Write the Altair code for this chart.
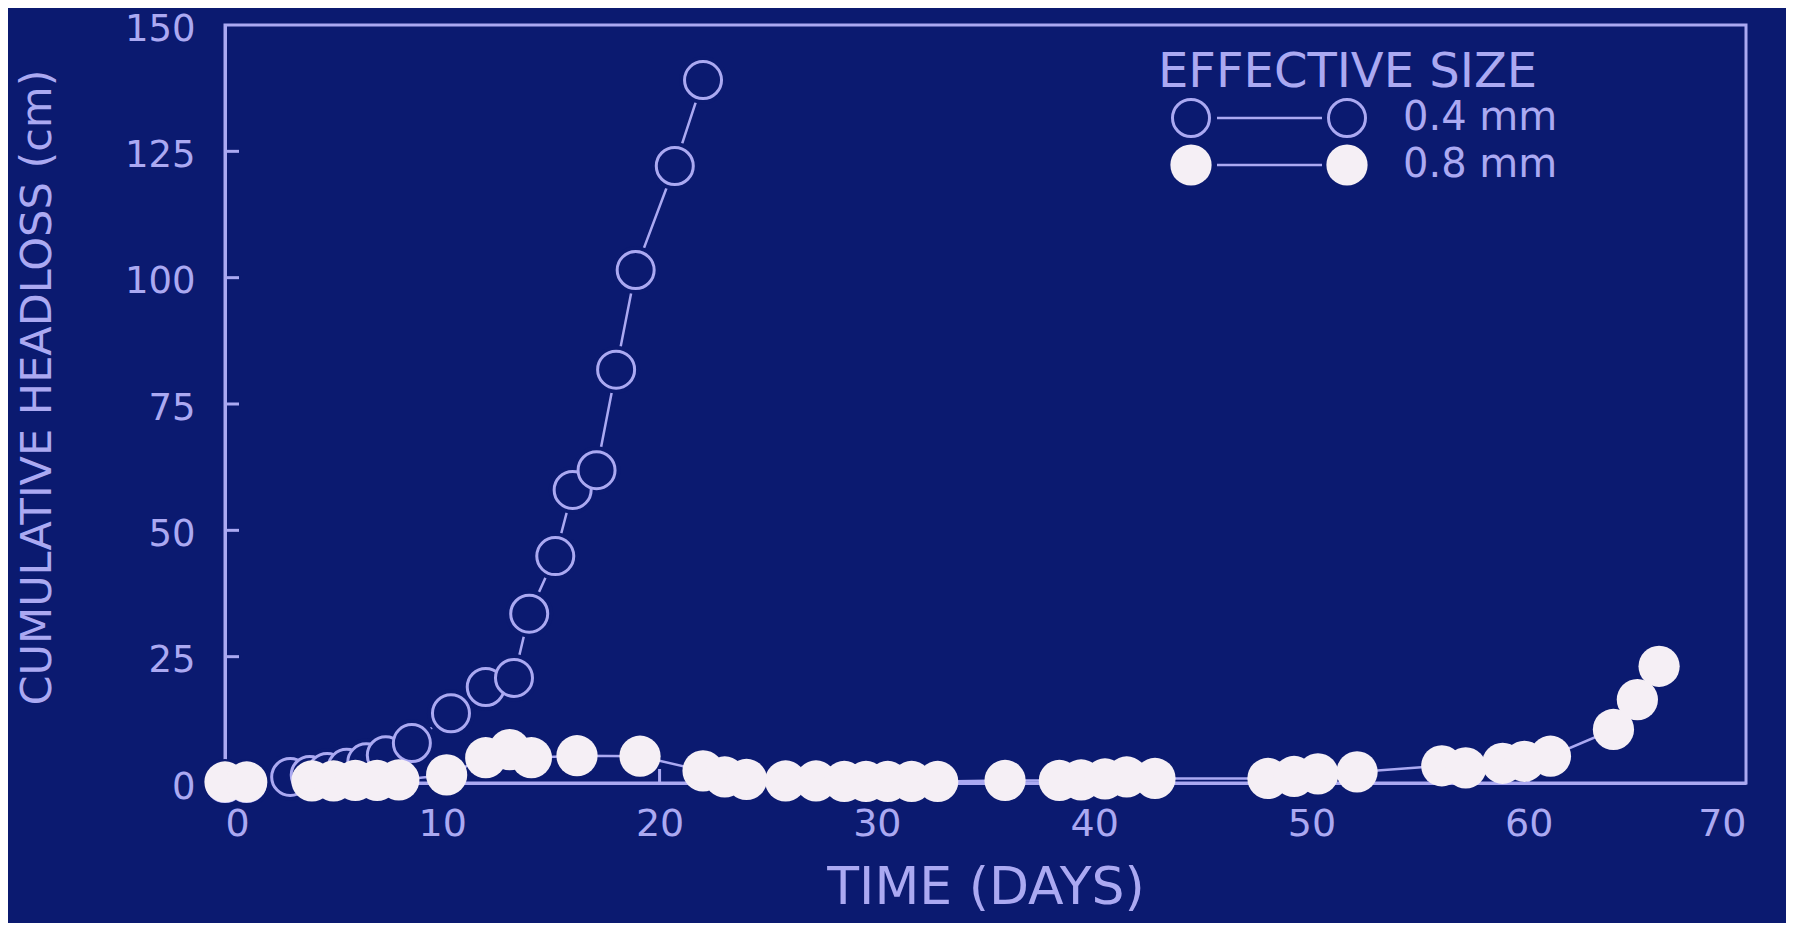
import altair as alt
import pandas as pd

# ---------------- data ----------------
open_days = [0, 1, 3.0, 3.9, 4.7, 5.6, 6.5, 7.4, 8.6, 10.4, 12.0, 13.3, 14.0, 15.2, 16.0, 17.1, 18.0, 18.9, 20.7, 22.0]
open_vals = [0, 0, 1.2, 1.6, 2.2, 3.0, 4.1, 5.5, 7.9, 13.8, 19.0, 20.8, 33.5, 44.9, 58.0, 61.9, 81.8, 101.5, 122.1, 139.1]

filled_days = [0, 1, 4, 5, 6, 7, 8, 10.2, 12.0, 13.1, 14.1, 16.2, 19.1, 22.0, 23.0, 24.0,
               25.8, 27.2, 28.5, 29.5, 30.5, 31.6, 32.8, 35.9, 38.4, 39.4, 40.5, 41.5, 42.8,
               48.0, 49.2, 50.3, 52.1, 56.0, 57.1, 58.8, 59.8, 61.0, 63.9, 65.0, 66.0]
filled_vals = [0.2, 0.2, 0.4, 0.4, 0.5, 0.5, 0.6, 1.6, 5.0, 6.6, 5.0, 5.4, 5.3, 2.4, 1.2, 0.7,
               0.4, 0.4, 0.3, 0.3, 0.3, 0.3, 0.3, 0.5, 0.5, 0.6, 0.8, 1.2, 0.9,
               0.9, 1.3, 1.8, 2.2, 3.4, 3.0, 3.9, 4.3, 5.3, 10.6, 16.5, 23.1]

x_tick_vals = [0, 10, 20, 30, 40, 50, 60, 70]
y_tick_vals = [0, 25, 50, 75, 100, 125, 150]
inner_x_ticks = [10, 20, 30, 40, 50, 60]
inner_y_ticks = [25, 50, 75, 100, 125]

legend_title = "EFFECTIVE SIZE"
legend_labels = ["0.4 mm", "0.8 mm"]
x_title = "TIME (DAYS)"
y_title = "CUMULATIVE HEADLOSS (cm)"

# ---------------- styling ----------------
BG = "#0b1a70"
FG = "#aba9f2"
WHITE = "#f5eff5"
FONT = "DejaVu Sans"
W, H = 1521, 758
OPEN_SIZE = 1369
HALO_SIZE = 2300
FILLED_SIZE = 1700

open_df = pd.DataFrame({"day": open_days, "loss": open_vals})
filled_df = pd.DataFrame({"day": filled_days, "loss": filled_vals})
xt_df = pd.DataFrame({"day": inner_x_ticks})
yt_df = pd.DataFrame({"loss": inner_y_ticks})
leg_df = pd.DataFrame({"label": legend_labels})
title_df = pd.DataFrame({"label": [legend_title]})

xscale = alt.Scale(domain=[0, 70], nice=False, zero=False)
yscale = alt.Scale(domain=[0, 150], nice=False)

xaxis = alt.Axis(values=x_tick_vals, title=x_title, ticks=False, tickSize=0, grid=False,
                 labelPadding=22, labelFontSize=38, labelFont=FONT, labelColor=FG,
                 titleFont=FONT, titleFontSize=52, titleFontWeight="normal", titleColor=FG,
                 titleY=104, titleBaseline="middle", domainColor=FG, domainWidth=3)
yaxis = alt.Axis(values=y_tick_vals, title=y_title, ticks=False, tickSize=0, grid=False,
                 labelPadding=30, labelFontSize=37, labelFont=FONT, labelColor=FG,
                 labelOffset=4,
                 titleFont=FONT, titleFontSize=43, titleFontWeight="normal", titleColor=FG,
                 titleX=-175, titleY=362, titleAngle=-90, titleBaseline="alphabetic",
                 titleAlign="center", domainColor=FG, domainWidth=3)

X = alt.X("day:Q", scale=xscale, axis=xaxis)
Y = alt.Y("loss:Q", scale=yscale, axis=yaxis)

filled_line = alt.Chart(filled_df).mark_line(color=FG, strokeWidth=2.5).encode(x=X, y=Y)
open_line = alt.Chart(open_df).mark_line(color=FG, strokeWidth=2.5).encode(x=X, y=Y)
open_halo = alt.Chart(open_df).mark_point(shape="circle", filled=True, color=BG, opacity=1,
                                          size=HALO_SIZE).encode(x=X, y=Y)
open_pts = alt.Chart(open_df).mark_point(shape="circle", fill=BG, fillOpacity=1, stroke=FG,
                                         strokeWidth=3, opacity=1, size=OPEN_SIZE).encode(x=X, y=Y)
filled_pts = alt.Chart(filled_df).mark_point(shape="circle", filled=True, color=WHITE, opacity=1,
                                             size=FILLED_SIZE).encode(x=X, y=Y)

# inward tick marks
xticks = alt.Chart(xt_df).mark_rule(color=FG, strokeWidth=3).encode(
    x=alt.X("day:Q", scale=xscale, axis=xaxis), y=alt.value(H), y2=alt.value(H - 14))
yticks = alt.Chart(yt_df).mark_rule(color=FG, strokeWidth=3).encode(
    y=alt.Y("loss:Q", scale=yscale, axis=yaxis), x=alt.value(0), x2=alt.value(14))

# legend
leg_title = alt.Chart(title_df).mark_text(align="left", baseline="middle", font=FONT,
                                          fontSize=48, color=FG).encode(
    x=alt.value(933), y=alt.value(48), text="label:N")
row_y = [93, 140]
legend_layers = []
for i, lab in enumerate(legend_labels):
    d = leg_df.iloc[[i]]
    ry = row_y[i]
    legend_layers.append(alt.Chart(d).mark_rule(color=FG, strokeWidth=2.5).encode(
        x=alt.value(992), x2=alt.value(1097), y=alt.value(ry)))
    for cx in (966, 1122):
        if i == 0:
            legend_layers.append(alt.Chart(d).mark_point(shape="circle", fill=BG, fillOpacity=1,
                                                         stroke=FG, strokeWidth=3, opacity=1,
                                                         size=OPEN_SIZE).encode(
                x=alt.value(cx), y=alt.value(ry)))
        else:
            legend_layers.append(alt.Chart(d).mark_point(shape="circle", filled=True, color=WHITE,
                                                         opacity=1, size=FILLED_SIZE).encode(
                x=alt.value(cx), y=alt.value(ry)))
    legend_layers.append(alt.Chart(d).mark_text(align="left", baseline="middle", font=FONT,
                                                fontSize=40, color=FG).encode(
        x=alt.value(1178), y=alt.value(ry), text="label:N"))

chart = alt.layer(
    xticks, yticks, filled_line, open_line, open_halo, open_pts, filled_pts,
    leg_title, *legend_layers
).properties(
    width=W, height=H,
    autosize=alt.AutoSizeParams(type="none"),
    padding={"left": 217, "top": 17, "right": 40, "bottom": 140},
    background=BG,
).configure_view(
    stroke=FG, strokeWidth=3, fill=BG
)

chart.save("out.html", embed_options={"renderer": "svg", "actions": False})
